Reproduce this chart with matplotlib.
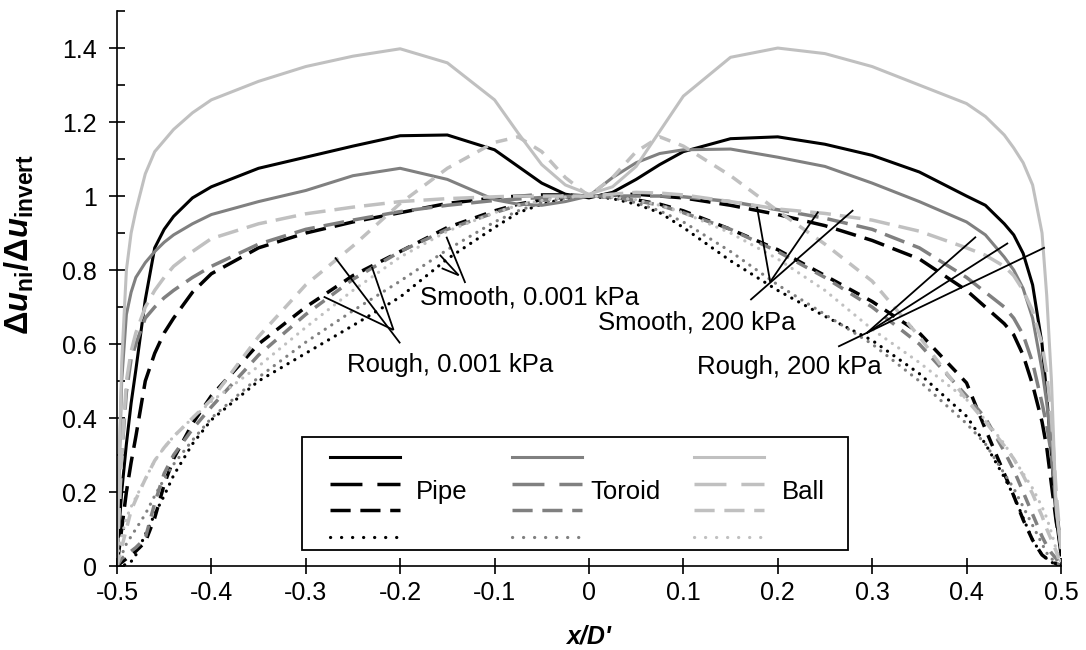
import matplotlib
matplotlib.use("Agg")
import matplotlib.pyplot as plt
from matplotlib.lines import Line2D
from matplotlib.patches import Rectangle
from matplotlib.ticker import MultipleLocator, FuncFormatter

plt.rcParams['font.family'] = ['Liberation Sans', 'DejaVu Sans']
plt.rcParams['axes.unicode_minus'] = False
plt.rcParams['mathtext.fontset'] = 'custom'
plt.rcParams['mathtext.rm'] = 'Liberation Sans:bold'
plt.rcParams['mathtext.it'] = 'Liberation Sans:bold:italic'
plt.rcParams['mathtext.bf'] = 'Liberation Sans:bold'

# ---- data (x/D' positions) ----
x = [-0.5, -0.495, -0.49, -0.485, -0.48, -0.47, -0.46, -0.45, -0.44, -0.42, -0.4,
     -0.35, -0.3, -0.25, -0.2, -0.15,
     -0.1, -0.075, -0.05, -0.025, 0, 0.025, 0.05, 0.075, 0.1,
     0.15, 0.2, 0.25, 0.3, 0.35,
     0.4, 0.42, 0.44, 0.45, 0.46, 0.47, 0.48, 0.485, 0.49, 0.495, 0.5]

# Pipe
pipe_rough_200 = [0.03, 0.2, 0.33, 0.44, 0.53, 0.72, 0.86, 0.91, 0.945, 0.995, 1.025,
                  1.075, 1.105, 1.135, 1.163, 1.165,
                  1.125, 1.08, 1.035, 1.005, 0.995, 1.01, 1.045, 1.085, 1.12,
                  1.155, 1.16, 1.14, 1.11, 1.065,
                  1.0, 0.975, 0.925, 0.895, 0.845, 0.76, 0.6, 0.46, 0.3, 0.13, 0.03]
pipe_smooth_200 = [0.0, 0.1, 0.2, 0.28, 0.35, 0.5, 0.575, 0.63, 0.67, 0.74, 0.79,
                   0.86, 0.9, 0.93, 0.955, 0.98,
                   0.995, 1.0, 1.003, 1.003, 1.0, 1.003, 1.005, 1.0, 0.995,
                   0.975, 0.95, 0.92, 0.88, 0.83,
                   0.745, 0.7, 0.655, 0.625, 0.57, 0.49, 0.39, 0.32, 0.22, 0.12, 0.05]
pipe_rough_0001 = [0.0, 0.01, 0.02, 0.03, 0.04, 0.065, 0.13, 0.22, 0.29, 0.385, 0.46,
                   0.6, 0.7, 0.785, 0.85, 0.915,
                   0.96, 0.978, 0.99, 0.998, 1.0, 0.998, 0.99, 0.978, 0.96,
                   0.91, 0.855, 0.785, 0.715, 0.63,
                   0.495, 0.37, 0.25, 0.19, 0.125, 0.07, 0.03, 0.02, 0.012, 0.006, 0.0]
pipe_smooth_0001 = [0.0, 0.0, 0.005, 0.012, 0.03, 0.085, 0.14, 0.19, 0.245, 0.33, 0.395,
                    0.5, 0.575, 0.65, 0.727, 0.83,
                    0.915, 0.955, 0.978, 0.993, 1.0, 0.993, 0.978, 0.955, 0.915,
                    0.825, 0.745, 0.675, 0.61, 0.52,
                    0.405, 0.33, 0.24, 0.19, 0.13, 0.07, 0.03, 0.02, 0.01, 0.005, 0.0]

# Toroid
toroid_rough_200 = [0.05, 0.5, 0.68, 0.74, 0.78, 0.82, 0.85, 0.875, 0.895, 0.925, 0.95,
                    0.985, 1.015, 1.055, 1.075, 1.045,
                    0.99, 0.978, 0.975, 0.985, 1.0, 1.05, 1.09, 1.115, 1.125,
                    1.127, 1.105, 1.08, 1.035, 0.985,
                    0.93, 0.895, 0.835, 0.8, 0.75, 0.67, 0.53, 0.44, 0.33, 0.16, 0.05]
toroid_smooth_200 = [0.02, 0.3, 0.47, 0.56, 0.6, 0.67, 0.7, 0.725, 0.745, 0.78, 0.81,
                     0.87, 0.91, 0.935, 0.958, 0.975,
                     0.988, 0.992, 0.996, 0.999, 1.0, 1.0, 1.0, 1.0, 0.998,
                     0.985, 0.963, 0.94, 0.91, 0.86,
                     0.78, 0.74, 0.7, 0.67, 0.625, 0.55, 0.44, 0.38, 0.3, 0.16, 0.05]
toroid_rough_0001 = [0.0, 0.02, 0.03, 0.04, 0.05, 0.075, 0.17, 0.25, 0.3, 0.37, 0.43,
                     0.57, 0.68, 0.775, 0.85, 0.91,
                     0.955, 0.975, 0.988, 0.997, 1.0, 0.997, 0.988, 0.975, 0.955,
                     0.91, 0.85, 0.78, 0.7, 0.6,
                     0.46, 0.4, 0.31, 0.26, 0.2, 0.14, 0.08, 0.055, 0.035, 0.02, 0.0]
toroid_smooth_0001 = [0.0, 0.03, 0.06, 0.08, 0.1, 0.14, 0.19, 0.235, 0.275, 0.34, 0.4,
                      0.51, 0.605, 0.69, 0.77, 0.855,
                      0.93, 0.96, 0.982, 0.995, 1.0, 0.995, 0.982, 0.96, 0.93,
                      0.85, 0.76, 0.68, 0.6, 0.5,
                      0.385, 0.33, 0.25, 0.21, 0.16, 0.11, 0.06, 0.035, 0.02, 0.01, 0.0]

# Ball
ball_rough_200 = [0.05, 0.55, 0.8, 0.9, 0.96, 1.06, 1.12, 1.15, 1.18, 1.225, 1.26,
                  1.31, 1.35, 1.378, 1.398, 1.36,
                  1.26, 1.17, 1.085, 1.03, 1.005, 1.025, 1.08, 1.175, 1.27,
                  1.375, 1.4, 1.385, 1.35, 1.3,
                  1.25, 1.215, 1.165, 1.13, 1.09, 1.03, 0.9, 0.73, 0.5, 0.15, 0.05]
ball_smooth_200 = [0.02, 0.3, 0.5, 0.58, 0.63, 0.7, 0.745, 0.78, 0.81, 0.85, 0.885,
                   0.925, 0.952, 0.97, 0.985, 0.993,
                   0.998, 1.0, 1.0, 1.0, 1.0, 1.005, 1.01, 1.008, 1.003,
                   0.985, 0.965, 0.953, 0.935, 0.905,
                   0.86, 0.84, 0.81, 0.785, 0.745, 0.69, 0.6, 0.52, 0.4, 0.2, 0.05]
ball_rough_0001 = [0.0, 0.05, 0.1, 0.15, 0.18, 0.235, 0.285, 0.32, 0.35, 0.4, 0.45,
                   0.62, 0.76, 0.865, 0.98, 1.075,
                   1.145, 1.16, 1.12, 1.05, 1.0, 1.05, 1.12, 1.16, 1.135,
                   1.055, 0.96, 0.87, 0.77, 0.62,
                   0.45, 0.39, 0.325, 0.29, 0.245, 0.195, 0.135, 0.1, 0.07, 0.04, 0.0]
ball_smooth_0001 = [0.02, 0.08, 0.13, 0.16, 0.185, 0.235, 0.285, 0.32, 0.35, 0.4, 0.445,
                    0.54, 0.645, 0.745, 0.835, 0.905,
                    0.955, 0.975, 0.988, 0.997, 1.0, 0.997, 0.99, 0.975, 0.955,
                    0.9, 0.83, 0.745, 0.64, 0.55,
                    0.45, 0.395, 0.33, 0.29, 0.25, 0.21, 0.16, 0.13, 0.09, 0.045, 0.01]

# leader lines for the annotations: (x0, y0, x1, y1)
leaders = [
    (-0.131, 0.765, -0.151, 0.890), (-0.138, 0.786, -0.158, 0.841), (-0.138, 0.786, -0.156, 0.805),
    (-0.200, 0.602, -0.269, 0.834), (-0.207, 0.638, -0.230, 0.809), (-0.207, 0.638, -0.281, 0.728),
    (0.171, 0.719, 0.280, 0.962), (0.192, 0.768, 0.178, 0.971), (0.192, 0.768, 0.243, 0.958),
    (0.264, 0.593, 0.483, 0.861), (0.294, 0.629, 0.410, 0.890), (0.294, 0.629, 0.444, 0.873),
]
notes = [("Smooth, 0.001 kPa", -0.179, 0.727), ("Rough, 0.001 kPa", -0.256, 0.543),
         ("Smooth, 200 kPa", 0.0095, 0.659), ("Rough, 200 kPa", 0.115, 0.538)]

y_ticks = [0, 0.2, 0.4, 0.6, 0.8, 1.0, 1.2, 1.4]
x_ticks = [-0.5, -0.4, -0.3, -0.2, -0.1, 0, 0.1, 0.2, 0.3, 0.4, 0.5]

# ---- styles ----
COLORS = {"Pipe": "#000000", "Toroid": "#808080", "Ball": "#c0c0c0"}
STYLES = [  # rough 200, smooth 200, rough 0.001, smooth 0.001
    dict(linestyle="-", linewidth=2.2),
    dict(linestyle=(0, (6.0, 2.6)), linewidth=2.5, dash_capstyle="butt"),
    dict(linestyle=(0, (3.4, 2.6)), linewidth=2.5, dash_capstyle="butt"),
    dict(linestyle=(0, (0.05, 2.4)), linewidth=2.3, dash_capstyle="round"),
]
# legend keys in the reference use a coarser dash pattern
KEY_STYLES = [
    dict(linestyle="-", linewidth=2.2),
    dict(linestyle=(0, (9.2, 4.3)), linewidth=2.5, dash_capstyle="butt"),
    dict(linestyle=(0, (5.8, 2.8)), linewidth=2.5, dash_capstyle="butt"),
    dict(linestyle=(0, (0.05, 3.4)), linewidth=2.3, dash_capstyle="round"),
]
series = {
    "Pipe": [pipe_rough_200, pipe_smooth_200, pipe_rough_0001, pipe_smooth_0001],
    "Toroid": [toroid_rough_200, toroid_smooth_200, toroid_rough_0001, toroid_smooth_0001],
    "Ball": [ball_rough_200, ball_smooth_200, ball_rough_0001, ball_smooth_0001],
}

fig = plt.figure(figsize=(10.86, 6.5), dpi=100)
ax = fig.add_axes([0.1077, 0.1292, 0.8692, 0.8538])

handles = []
for name in ["Pipe", "Toroid", "Ball"]:
    for ys, st, kst in zip(series[name], STYLES, KEY_STYLES):
        ax.plot(x, ys, color=COLORS[name], **st)
        handles.append(Line2D([], [], color=COLORS[name], **kst))

for x0, y0, x1, y1 in leaders:
    ax.plot([x0, x1], [y0, y1], color="black", linewidth=1.3, solid_capstyle="butt")
for txt, tx, ty in notes:
    ax.text(tx, ty, txt, fontsize=18.5, ha="left", va="center")

fmt = FuncFormatter(lambda v, p: f"{round(v, 2):g}")
ax.set_xticks(x_ticks)
ax.set_yticks(y_ticks)
ax.yaxis.set_minor_locator(MultipleLocator(0.1))
ax.xaxis.set_major_formatter(fmt)
ax.yaxis.set_major_formatter(fmt)
ax.set_xlim(-0.5, 0.5)
ax.set_ylim(0, 1.5)
ax.tick_params(axis="both", which="major", direction="inout", length=11, width=1.2,
               labelsize=18, color="black")
ax.tick_params(axis="x", which="major", pad=5)
ax.tick_params(axis="y", which="major", pad=9)
ax.tick_params(axis="y", which="minor", direction="in", length=6, width=1.2)
for s in ["top", "right"]:
    ax.spines[s].set_visible(False)
for s in ["left", "bottom"]:
    ax.spines[s].set_linewidth(1.2)

ax.set_xlabel("x/D'", fontsize=18, fontweight="bold", fontstyle="italic")
ax.xaxis.set_label_coords(0.5, -0.105)
ax.set_ylabel(r"$\Delta\mathit{u}_{\mathrm{ni}}/\Delta\mathit{u}_{\mathrm{invert}}$", fontsize=23.5)
ax.yaxis.set_label_coords(-0.086, 0.58)

# legend: white box, unlabelled keys, group names beside each column
ax.add_patch(Rectangle((0.196, 0.0288), 0.578, 0.2036, transform=ax.transAxes,
                       facecolor="white", edgecolor="black", linewidth=1.3, zorder=5))
leg = ax.legend(handles, [""] * 12, ncol=3, loc="upper left",
                bbox_to_anchor=(0.2256, 0.2090), frameon=False, borderpad=0,
                borderaxespad=0, fontsize=14, handlelength=3.6, handletextpad=0,
                columnspacing=5.75, labelspacing=0.47)
leg.set_zorder(6)
for name, lx in [("Pipe", 0.3167), ("Toroid", 0.5011), ("Ball", 0.7044)]:
    ax.text(lx, 0.1333, name, transform=ax.transAxes, fontsize=18.5,
            ha="left", va="center", zorder=7)

fig.savefig("out.png", dpi=100)
